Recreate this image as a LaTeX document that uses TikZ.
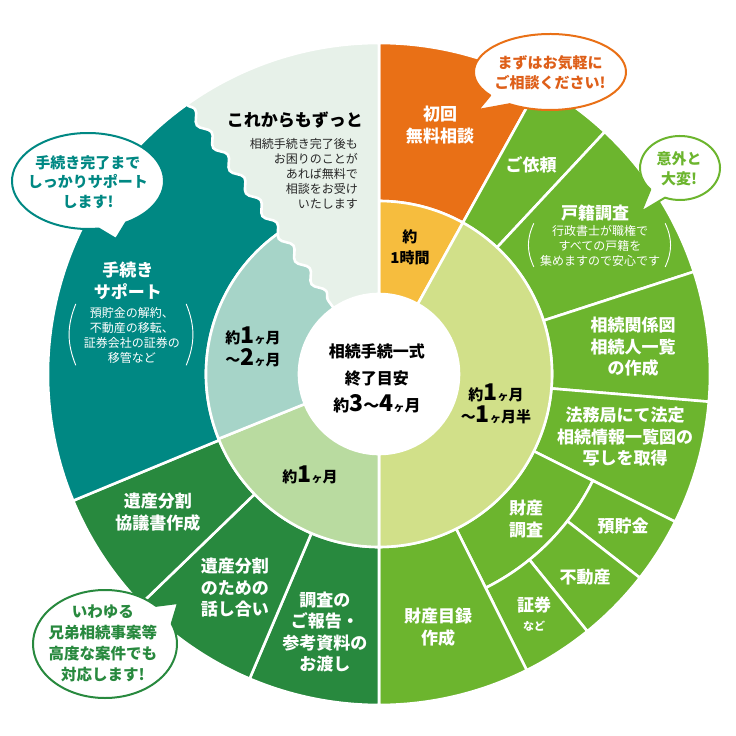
\documentclass[tikz,border=0pt]{standalone}
\usepackage{fontspec}
\setmainfont{Noto Sans CJK JP}
\usepackage{xcolor}
\usetikzlibrary{positioning, calc, decorations.pathmorphing}

\definecolor{orangeC}{RGB}{233,112,22}
\definecolor{orangeT}{RGB}{222,95,25}
\definecolor{yellowC}{RGB}{246,189,62}
\definecolor{grassC}{RGB}{108,181,46}
\definecolor{limeC}{RGB}{209,224,137}
\definecolor{forestC}{RGB}{40,137,62}
\definecolor{mintC}{RGB}{185,219,160}
\definecolor{tealC}{RGB}{0,136,131}
\definecolor{aquaC}{RGB}{166,212,200}
\definecolor{paleC}{RGB}{231,241,233}

\tikzset{
    seg/.style={draw=white, line width=2.6pt, line join=miter},
    lbl/.style={text=white, font=\bfseries\fontsize{17}{21.5}\selectfont, align=center, inner sep=0pt},
    note/.style={text=white, font=\fontsize{12}{15}\selectfont, align=center, inner sep=0pt},
    mid/.style={text=black, font=\bfseries\fontsize{15}{21}\selectfont, align=center, inner sep=0pt},
    callout/.style={font=\bfseries\fontsize{15}{19.5}\selectfont, align=center, inner sep=0pt},
    paren/.style={draw=white, line width=0.9pt},
}

% ring piece: inner r, outer r, from angle, to angle, colour
\newcommand{\ringpart}[5]{%
    \filldraw[seg, fill=#5] (#3:#1pt) arc[start angle=#3, end angle=#4, radius=#1pt]
        -- (#4:#2pt) arc[start angle=#4, end angle=#3, radius=#2pt] -- cycle;}
% speech bubble: centre, rx, ry, tail from, tail to, colour (tip is <centre>-tip)
\newcommand{\bubble}[6]{%
    \filldraw[fill=white, draw=#6, line width=2pt, line join=round]
        ($(#1)+({#2*cos(#4)},{#3*sin(#4)})$) -- (#1-tip)
        -- ($(#1)+({#2*cos(#5)},{#3*sin(#5)})$)
        arc[start angle=#5, end angle=#4+360, x radius=#2pt, y radius=#3pt] -- cycle;}
\newcommand{\bignum}[1]{{\fontsize{23}{20}\selectfont #1}}
\newcommand{\smke}{{\fontsize{11}{11}\selectfont ヶ}}

\begin{document}
\begin{tikzpicture}[x=1pt, y=1pt]
    \useasboundingbox (-379,-362) rectangle (357,374);

    % outer ring
    \ringpart{173}{331}{61}{90}{orangeC}
    \ringpart{173}{331}{47}{61}{grassC}
    \ringpart{173}{331}{18}{47}{grassC}
    \ringpart{173}{331}{-4.8}{18}{grassC}
    \ringpart{173}{331}{-26.5}{-4.8}{grassC}
    \ringpart{173}{239}{-63.5}{-26.5}{grassC}
    \ringpart{239}{331}{-38}{-26.5}{grassC}
    \ringpart{239}{331}{-51}{-38}{grassC}
    \ringpart{239}{331}{-63.5}{-51}{grassC}
    \ringpart{173}{331}{-90}{-63.5}{grassC}
    \ringpart{173}{331}{-113}{-90}{forestC}
    \ringpart{173}{331}{-136}{-113}{forestC}
    \ringpart{173}{331}{-157.5}{-136}{forestC}
    \ringpart{173}{331}{120}{202.5}{tealC}
    % middle ring
    \ringpart{80}{173}{61}{90}{yellowC}
    \ringpart{80}{173}{-90}{61}{limeC}
    \ringpart{80}{173}{202}{270}{mintC}
    \ringpart{80}{173}{120}{202}{aquaC}
    % torn piece
    \filldraw[seg, fill=paleC] (90:80pt) -- (90:331pt)
        arc[start angle=90, end angle=125.5, radius=331pt]
        decorate[decoration={snake, segment length=28pt, amplitude=4pt}]{ -- (124.5:80pt)}
        arc[start angle=124.5, end angle=90, radius=80pt] -- cycle;
    \fill[white] (0,0) circle (79pt);

    % bubbles
    \coordinate (ob) at (171,302);
    \coordinate (ob-tip) at (99,264);
    \bubble{ob}{76}{38}{218}{238}{orangeC}
    \coordinate (gb) at (301,206);
    \coordinate (gb-tip) at (262,162);
    \bubble{gb}{40}{32}{222}{248}{grassC}
    \coordinate (tb) at (-291,193);
    \coordinate (tb-tip) at (-263,135);
    \bubble{tb}{76}{48}{278}{300}{tealC}
    \coordinate (fb) at (-274,-270);
    \coordinate (fb-tip) at (-201,-229);
    \bubble{fb}{72}{54}{22}{45}{forestC}

    \node[callout, text=orangeT] (obtext) at (171,301) {まずはお気軽に\\ご相談ください!};
    \node[callout, text=grassC] (gbtext) at (300,205) {意外と\\大変!};
    \node[callout, text=tealC] (tbtext) at (-291,192) {手続き完了まで\\しっかりサポート\\します!};
    \node[callout, text=forestC, font=\bfseries\fontsize{15.5}{21}\selectfont] (fbtext) at (-276,-269)
        {いわゆる\\兄弟相続事案等\\高度な案件でも\\対応します!};

    % outer labels
    \node[lbl] (muryo) at (61,249) {初回\\無料相談};
    \node[lbl] (irai) at (152,209) {ご依頼};
    \node[lbl] (koseki) at (216,161) {戸籍調査};
    \node[note, below=4pt of koseki, xshift=5pt] (kosekinote)
        {行政書士が職権で\\すべての戸籍を\\集めますので安心です};
    \draw[paren] ([xshift=-6pt, yshift=2pt]kosekinote.north west)
        to[bend right=25] ([xshift=-6pt]kosekinote.south west);
    \draw[paren] ([xshift=5pt, yshift=2pt]kosekinote.north east)
        to[bend left=25] ([xshift=5pt]kosekinote.south east);
    \node[lbl] (kankei) at (254,27) {相続関係図\\相続人一覧\\の作成};
    \node[lbl] (homu) at (246,-63) {法務局にて法定\\相続情報一覧図の\\写しを取得};
    \node[lbl] (zaisan) at (147,-145) {財産\\調査};
    \node[lbl] (yochokin) at (244,-152) {預貯金};
    \node[lbl] (fudosan) at (206,-203) {不動産};
    \node[lbl] (shoken) at (155,-240) {証券\\[-3pt]{\fontsize{11}{13}\selectfont など}};
    \node[lbl] (mokuroku) at (59,-253) {財産目録\\作成};
    \node[lbl] (hokoku) at (-54,-258) {調査の\\ご報告・\\参考資料の\\お渡し};
    \node[lbl] (hanashi) at (-144,-214) {遺産分割\\のための\\話し合い};
    \node[lbl] (kyogi) at (-221,-138) {遺産分割\\協議書作成};
    \node[lbl] (support) at (-251,93) {手続き\\サポート};
    \node[note, below=7pt of support, xshift=4pt] (supportnote)
        {預貯金の解約、\\不動産の移転、\\証券会社の証券の\\移管など};
    \draw[paren] ([xshift=-8pt, yshift=3pt]supportnote.north west)
        to[bend right=22] ([xshift=-8pt, yshift=-2pt]supportnote.south west);
    \draw[paren] ([xshift=6pt, yshift=3pt]supportnote.north east)
        to[bend left=22] ([xshift=6pt, yshift=-2pt]supportnote.south east);
    \node[lbl, text=black] (zutto) at (-84,254) {これからもずっと};
    \node[note, text=black!85, align=right, anchor=east] (zuttonote) at (-21,200)
        {相続手続き完了後も\\お困りのことが\\あれば無料で\\相談をお受け\\いたします};

    % middle labels
    \node[mid] (ichijikan) at (31,127) {約\\1時間};
    \node[mid, font=\bfseries\fontsize{15}{22}\selectfont] (hantsuki) at (117,-30)
        {約\bignum{1}\smke 月\\～\bignum{1}\smke 月半};
    \node[mid, font=\bfseries\fontsize{15}{22}\selectfont] (nikagetsu) at (-126,27)
        {約\bignum{1}\smke 月\\～\bignum{2}\smke 月};
    \node[mid] (ikagetsu) at (-69,-101) {約\bignum{1}\smke 月};
    \node[mid, font=\bfseries\fontsize{16}{27}\selectfont] (goal) at (-2,-4)
        {相続手続一式\\終了目安\\約\bignum{3}～\bignum{4}\smke 月};
\end{tikzpicture}
\end{document}
